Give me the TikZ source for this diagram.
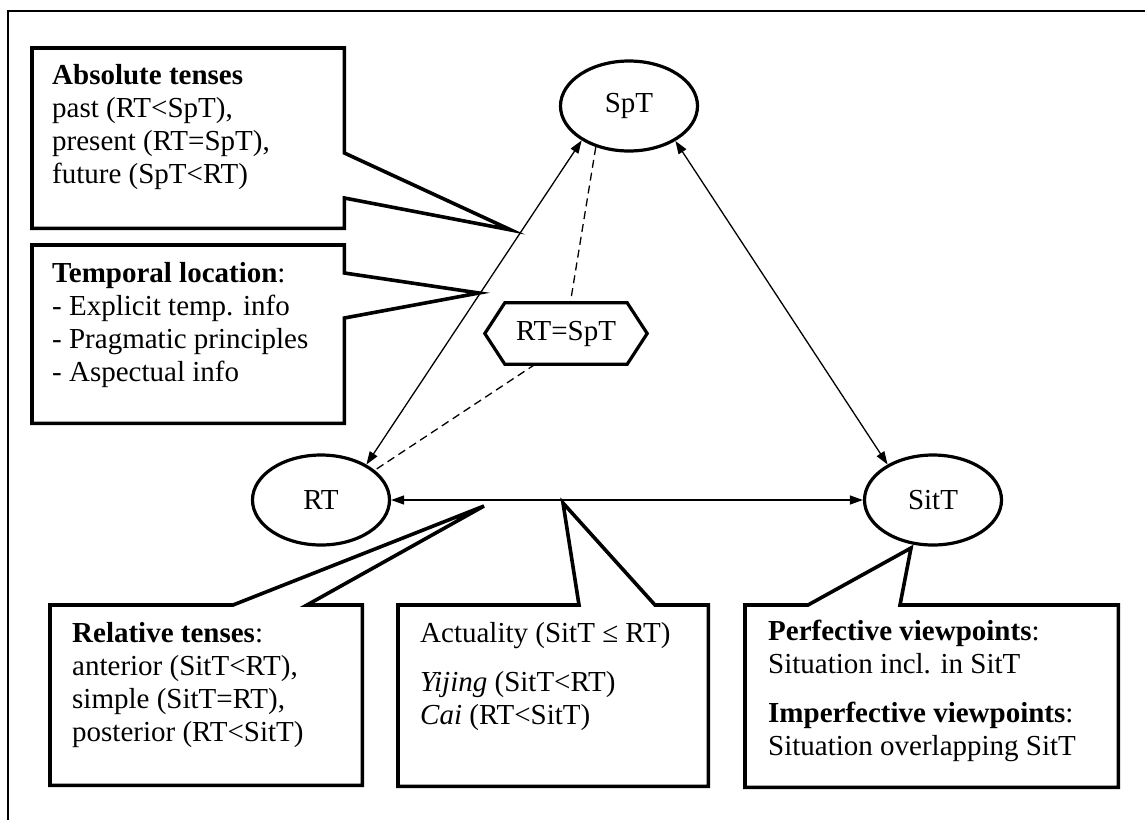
\documentclass[tikz,border=0pt]{standalone}
\usepackage{fontspec}
\setmainfont{Liberation Serif}
\usetikzlibrary{arrows.meta,calc,shapes.geometric}

\begin{document}
\begin{tikzpicture}[x=1pt,y=-1pt,
  body/.style={font=\fontsize{29}{33}\selectfont},
  % multi-line texts are placed by the baseline of their last line
  txt/.style={body, inner sep=0pt, align=left, anchor=base west},
  timept/.style={ellipse, draw, line width=3.2pt, minimum width=137pt,
    minimum height=90pt, inner sep=0pt, body},
  region/.style={rectangle, inner sep=0pt, anchor=north west},
  callout/.style={draw, line width=3.6pt, line join=miter},
  link/.style={line width=1.3pt,
    {Triangle[length=13pt,width=9pt]}-{Triangle[length=13pt,width=9pt]}},
  dashlink/.style={line width=1.3pt, dash pattern=on 8pt off 5pt},
  framestyle/.style={line width=2pt, line join=miter}
]
\useasboundingbox (0,0) rectangle (1145,820);

% outer frame (only top and left edges fall on the page)
\draw[framestyle] (8,820) -- (8,11) -- (1145,11);

% the three time points
\node[timept] (SpT) at (629,106) {SpT};
\node[timept] (RT) at (321,500) {RT};
\node[timept] (SitT) at (933,500) {SitT};

% hexagonal label
\node[body, inner sep=0pt, minimum width=162pt, minimum height=61pt] (eq) at (566,333.5) {RT=SpT};
\draw[line width=3.2pt, line join=miter] (eq.west) -- ($(eq.north west)+(20,0)$)
  -- ($(eq.north east)+(-20,0)$) -- (eq.east) -- ($(eq.south east)+(-20,0)$)
  -- ($(eq.south west)+(20,0)$) -- cycle;

% relations between time points
\draw[link] (SpT.216) -- (RT.38);
\draw[link] (SpT.-37) -- (SitT.142);
\draw[link] (RT.east) -- (SitT.west);
\draw[dashlink] (SpT.231) -- (eq.82);
\draw[dashlink] (eq.225) -- (RT.29);

% callout pointer tips
\coordinate (tipA) at (511,230);
\coordinate (tipB) at (479,293);
\coordinate (tipC) at (484,506);
\coordinate (tipD) at (563,503);
\coordinate (tipE) at (911,548);

% callout areas
\node[region, minimum width=312pt, minimum height=180pt] (absbox) at (32,48) {};
\node[region, minimum width=312pt, minimum height=178pt] (locbox) at (32,245) {};
\node[region, minimum width=312pt, minimum height=180pt] (relbox) at (50,605) {};
\node[region, minimum width=310pt, minimum height=181pt] (actbox) at (398,605) {};
\node[region, minimum width=373pt, minimum height=182pt] (viewbox) at (745,605) {};

\draw[callout] (absbox.north west) -- (absbox.north east)
  -- ($(absbox.north east)+(0,105)$) -- (tipA) -- ($(absbox.north east)+(0,150)$)
  -- (absbox.south east) -- (absbox.south west) -- cycle;
\draw[callout] (locbox.north west) -- (locbox.north east)
  -- ($(locbox.north east)+(0,28)$) -- (tipB) -- ($(locbox.north east)+(0,73)$)
  -- (locbox.south east) -- (locbox.south west) -- cycle;
\draw[callout] (relbox.north west) -- ($(relbox.north west)+(183,0)$) -- (tipC)
  -- ($(relbox.north west)+(257,0)$) -- (relbox.north east)
  -- (relbox.south east) -- (relbox.south west) -- cycle;
\draw[callout] (actbox.north west) -- ($(actbox.north west)+(181,0)$) -- (tipD)
  -- ($(actbox.north west)+(257,0)$) -- (actbox.north east)
  -- (actbox.south east) -- (actbox.south west) -- cycle;
\draw[callout] (viewbox.north west) -- ($(viewbox.north west)+(63,0)$) -- (tipE)
  -- ($(viewbox.north west)+(155,0)$) -- (viewbox.north east)
  -- (viewbox.south east) -- (viewbox.south west) -- cycle;

% callout texts
\node[txt] (abstext) at ($(absbox.north west)+(20,135)$)
  {\textbf{Absolute tenses}\\past (RT<SpT),\\present (RT=SpT),\\future (SpT<RT)};
\node[txt] (loctext) at ($(locbox.north west)+(20,136)$)
  {\textbf{Temporal location}:\\- Explicit temp. info\\- Pragmatic principles\\- Aspectual info};
\node[txt] (reltext) at ($(relbox.north west)+(22,136)$)
  {\textbf{Relative tenses}:\\anterior (SitT<RT),\\simple (SitT=RT),\\posterior (RT<SitT)};
\node[txt] (acttext) at ($(actbox.north west)+(22,119)$)
  {Actuality (SitT ≤ RT)\\[15.5pt]\textit{Yijing} (SitT<RT)\\\textit{Cai} (RT<SitT)};
\node[txt] (viewtext) at ($(viewbox.north west)+(23,150)$)
  {\textbf{Perfective viewpoints}:\\Situation incl. in SitT\\[15.5pt]\textbf{Imperfective viewpoints}:\\Situation overlapping SitT};
\end{tikzpicture}
\end{document}
